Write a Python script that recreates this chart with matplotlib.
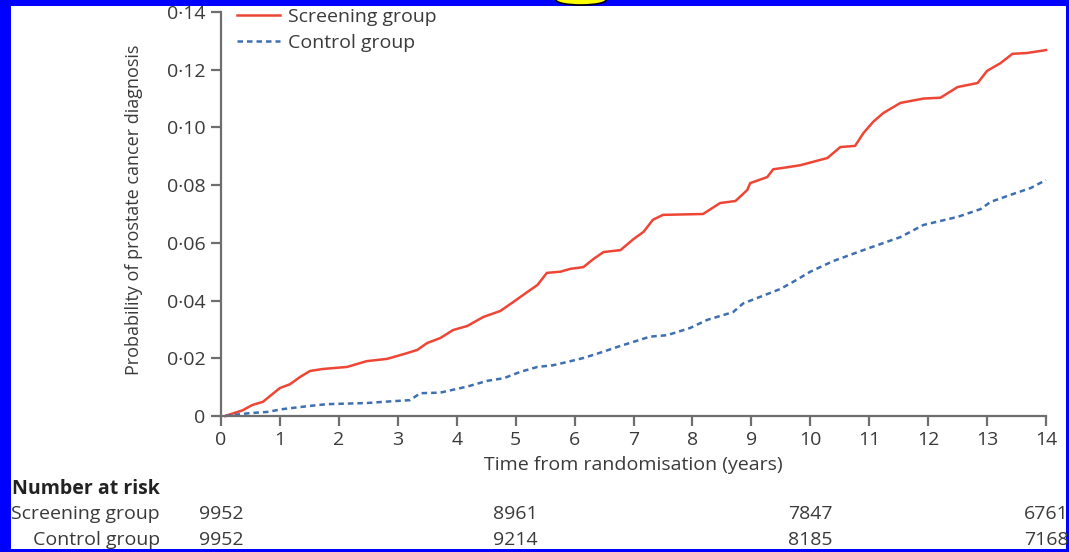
import matplotlib
matplotlib.use("Agg")
import matplotlib.pyplot as plt
from matplotlib.patches import Rectangle, Ellipse

# Probabilidade cumulativa de diagnóstico
screen_t = [0.07, 0.37, 0.53, 0.71, 1.0, 1.17, 1.34, 1.51, 1.73, 2.14, 2.47, 2.82, 3.16, 3.33,
            3.5, 3.72, 3.94, 4.18, 4.45, 4.74, 4.96, 5.2, 5.37, 5.53, 5.76, 5.93, 6.15, 6.32,
            6.49, 6.78, 7.0, 7.17, 7.33, 7.5, 8.18, 8.47, 8.73, 8.93, 8.98, 9.27, 9.37, 9.61,
            9.83, 10.29, 10.51, 10.76, 10.9, 11.07, 11.24, 11.53, 11.92, 12.21, 12.5, 12.84,
            13.0, 13.23, 13.43, 13.68, 14.0]
screen_p = [0.0, 0.002, 0.0038, 0.0049, 0.0097, 0.011, 0.0135, 0.0156, 0.0163, 0.017, 0.019,
            0.0198, 0.0218, 0.0229, 0.0253, 0.027, 0.0298, 0.0312, 0.0343, 0.0364, 0.0395,
            0.043, 0.0454, 0.0496, 0.050, 0.051, 0.0516, 0.0544, 0.0568, 0.0575, 0.0613,
            0.0638, 0.068, 0.0697, 0.070, 0.0738, 0.0745, 0.0783, 0.0807, 0.0828, 0.0855,
            0.0862, 0.0869, 0.0894, 0.0932, 0.0936, 0.098, 0.102, 0.105, 0.1085, 0.110,
            0.1103, 0.114, 0.1154, 0.1196, 0.1223, 0.1255, 0.1258, 0.1268]

ctrl_t = [0.07, 0.49, 0.78, 1.05, 1.51, 1.8, 2.48, 2.82, 3.21, 3.38, 3.72, 4.18, 4.52, 4.8,
          5.08, 5.37, 5.64, 5.87, 6.15, 6.43, 6.78, 7.0, 7.28, 7.57, 7.96, 8.25, 8.69, 8.86,
          9.49, 9.71, 10.0, 10.39, 10.97, 11.53, 11.92, 12.5, 12.89, 13.06, 13.45, 13.74, 14.0]
ctrl_p = [0.0, 0.001, 0.0014, 0.0024, 0.0035, 0.0041, 0.0045, 0.005, 0.0055, 0.0079, 0.0081,
          0.0102, 0.0122, 0.0131, 0.0153, 0.017, 0.0176, 0.0187, 0.0201, 0.0219, 0.0243,
          0.0257, 0.0275, 0.028, 0.0305, 0.0333, 0.036, 0.039, 0.044, 0.0465, 0.050, 0.0537,
          0.058, 0.062, 0.0662, 0.069, 0.0717, 0.0742, 0.077, 0.079, 0.0818]

x_ticks = list(range(0, 15))
y_ticks = [0, 0.02, 0.04, 0.06, 0.08, 0.10, 0.12, 0.14]
y_labels = ["0", "0·02", "0·04", "0·06", "0·08", "0·10", "0·12", "0·14"]

# Número em risco
risk_times = [0, 5, 10, 14]
risk_screen = [9952, 8961, 7847, 6761]
risk_ctrl = [9952, 9214, 8185, 7168]

plt.rcParams['font.family'] = ['Open Sans', 'DejaVu Sans']
txt = '#3a3a3a'
axc = '#6e6e6e'
fs = 14

fig = plt.figure(figsize=(10.69, 5.52), dpi=100, facecolor='#0000ff')
W, H = 1069, 552
fig.patches.append(Rectangle((11 / W, 3 / H), (1066 - 11) / W, (546 - 3) / H,
                             transform=fig.transFigure, facecolor='white',
                             edgecolor='none', zorder=-10))
fig.patches.append(Ellipse((581 / W, 1.0), 50 / W, 10 / H, transform=fig.transFigure,
                           facecolor='#ffff00', edgecolor='black', lw=1.2, zorder=5))

ax = fig.add_axes([221 / W, (552 - 416) / H, 825 / W, 404 / H])
ax.plot(screen_t, screen_p, color='#ee4535', lw=1.8, label='Screening group', clip_on=False)
ax.plot(ctrl_t, ctrl_p, color='#3e6fb0', lw=1.8, linestyle=(0, (2.2, 1.6)),
        label='Control group', clip_on=False)

ax.set_xlim(0, 14)
ax.set_ylim(0, 0.14)
ax.set_xticks(x_ticks)
ax.set_yticks(y_ticks)
ax.set_yticklabels(y_labels)
for s in ['top', 'right']:
    ax.spines[s].set_visible(False)
for s in ['left', 'bottom']:
    ax.spines[s].set_color(axc)
    ax.spines[s].set_linewidth(1.6)
ax.tick_params(direction='out', length=7, width=1.6, color=axc, labelsize=fs,
               labelcolor=txt, pad=4)

ax.set_xlabel("Time from randomisation (years)", fontsize=fs, color=txt)
ax.xaxis.set_label_coords(0.5, (416 - 456) / 404)
ax.set_ylabel("Probability of prostate cancer diagnosis", fontsize=13, color=txt)
ax.yaxis.set_label_coords((143 - 221) / 825, 0.51)

leg = ax.legend(loc='upper left', bbox_to_anchor=((237 - 221) / 825, 1 + 4 / 404),
                frameon=False, fontsize=fs, borderpad=0, borderaxespad=0,
                handlelength=2.2, handletextpad=0.4, labelspacing=0.4)
for t in leg.get_texts():
    t.set_color(txt)

tr = ax.get_xaxis_transform()
lab_x = (160 - 221) / 58.93
ax.text(lab_x, (416 - 489) / 404, "Number at risk", transform=tr, ha='right', va='center',
        fontsize=fs, fontweight='bold', color='#222222', clip_on=False)
ax.text(lab_x, (416 - 514) / 404, "Screening group", transform=tr, ha='right', va='center',
        fontsize=fs, color=txt, clip_on=False)
ax.text(lab_x, (416 - 540) / 404, "Control group", transform=tr, ha='right', va='center',
        fontsize=fs, color=txt, clip_on=False)
for t, a, b in zip(risk_times, risk_screen, risk_ctrl):
    ax.text(t, (416 - 514) / 404, str(a), transform=tr, ha='center', va='center',
            fontsize=fs, color=txt, clip_on=False)
    ax.text(t, (416 - 540) / 404, str(b), transform=tr, ha='center', va='center',
            fontsize=fs, color=txt, clip_on=False)

fig.savefig("out.png", dpi=100, facecolor=fig.get_facecolor())
